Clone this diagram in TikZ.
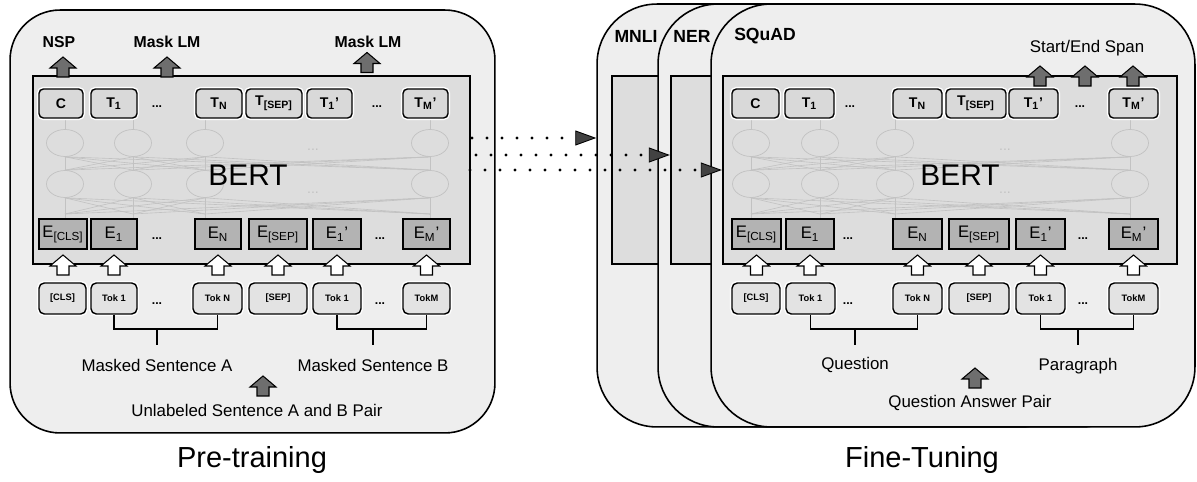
\documentclass[tikz,border=0pt]{standalone}
\usepackage{fontspec}
\setmainfont{Liberation Sans}
\usetikzlibrary{positioning,shapes.geometric,arrows.meta}

\definecolor{panelgray}{HTML}{EEEEEE}
\definecolor{bertgray}{HTML}{DDDDDD}
\definecolor{outgray}{HTML}{D9D9D9}
\definecolor{tokgray}{HTML}{E3E3E3}
\definecolor{embgray}{HTML}{B3B3B3}
\definecolor{arrgray}{HTML}{6E6E6E}
\definecolor{netgray}{HTML}{C2C2C2}

\newcommand{\lblsize}{\fontsize{9.6}{11}\selectfont}
\newcommand{\ttlsize}{\fontsize{16.5}{19}\selectfont}

\tikzset{
  panel/.style={draw, line width=0.9pt, fill=panelgray, rounded corners=1cm, inner sep=0pt},
  taskpanel/.style={panel, rounded corners=1.2cm, minimum width=9.68cm, minimum height=8.46cm},
  bertbox/.style={draw, line width=1.4pt, fill=bertgray, inner sep=0pt, minimum height=3.76cm},
  outbox/.style={draw, line width=0.8pt, fill=outgray, rounded corners=2.5pt, inner sep=0pt,
    minimum height=0.58cm, font=\fontsize{8}{9}\selectfont\bfseries,
    preaction={draw=white, line width=2.4pt}},
  embbox/.style={draw, line width=0.8pt, fill=embgray, inner sep=0pt, minimum height=0.6cm,
    font=\fontsize{9.5}{10}\selectfont},
  tokbox/.style={draw, line width=0.8pt, fill=tokgray, rounded corners=3pt, inner sep=0pt,
    minimum height=0.62cm, font=\fontsize{5.3}{6}\selectfont\bfseries,
    preaction={draw=white, line width=2.4pt}},
  rowdots/.style={font=\fontsize{7}{8}\selectfont\bfseries, inner sep=0pt, anchor=base},
  % block arrow pointing up, drawn in pixel units of the picture
  uparrow/.pic={\draw[line width=0.6pt, fill=#1]
    (-6,10) -- (-6,1) -- (-13,1) -- (0,-10) -- (13,1) -- (6,1) -- (6,10) -- cycle;},
  netcell/.style={ellipse, draw=netgray, line width=0.4pt, minimum width=0.74cm, minimum height=0.54cm, inner sep=0pt},
  netline/.style={draw=netgray, line width=0.35pt},
  netdots/.style={text=netgray, font=\fontsize{8}{9}\selectfont, inner sep=0pt},
  bertlabel/.style={font=\fontsize{17}{20}\selectfont, inner sep=0pt},
  bracket/.style={line width=0.8pt},
  lbl/.style={font=\lblsize, inner sep=1pt},
  headlbl/.style={font=\fontsize{9}{10}\selectfont\bfseries, inner sep=1pt},
  tasklbl/.style={font=\fontsize{10}{11}\selectfont\bfseries, inner sep=1pt},
  title/.style={font=\ttlsize, inner sep=1pt},
  dotarrow/.style={line width=1.8pt, line cap=round, dash pattern=on 0pt off 0.3cm,
    -{Triangle[length=0.42cm 0 0, width=0.3cm 0 0, fill=arrgray!60!black, line width=0.5pt]}},
}

\begin{document}
\begin{tikzpicture}[x=0.02cm,y=-0.02cm]
\useasboundingbox (0,0) rectangle (1197,482);

% ---------------- pre-training ----------------
\node[panel, minimum width=9.7cm, minimum height=8.46cm] (pre) at (252.5,221.5) {};
\node[bertbox, minimum width=8.74cm] (bertL) at (251.5,170) {};

% faint transformer layers
\foreach \x in {65,133,205,430} {
  \node[netcell] (aL\x) at (\x,143) {};
  \node[netcell] (bL\x) at (\x,184) {};
}
\foreach \x in {65,133,205,430} {
  \draw[netline] (aL\x.north) -- ++(0,-13);
  \draw[netline] (bL\x.south) -- ++(0,22);
  \foreach \y in {65,133,205,430} {
    \draw[netline] (aL\x.south) -- (bL\y.north);
    \draw[netline] (bL\x.south) -- (\y,214);
  }
}
\node[netdots] (ndL1) at (313,150) {...};
\node[netdots] (ndL2) at (313,193) {...};
\node[bertlabel] (bertLtxt) at (248,175) {BERT};

% output, embedding and token rows
\foreach \n/\x/\w/\t in {c/61/44/C, t1/114/46/T\textsubscript{1}, tn/219/46/T\textsubscript{N},
    tsep/274/56/T\textsubscript{[SEP]}, t1b/329.5/45/T\textsubscript{1}', tm/425.5/45/T\textsubscript{M}'}
  \node[outbox, minimum width=\w*0.02cm] (oL-\n) at (\x,103.5) {\t};
\foreach \n/\x/\w/\t in {cls/63/48/E\textsubscript{[CLS]}, e1/114/46/E\textsubscript{1}, en/218/46/E\textsubscript{N},
    esep/278/58/E\textsubscript{[SEP]}, e1b/337/48/E\textsubscript{1}', em/426.5/47/E\textsubscript{M}'}
  \node[embbox, minimum width=\w*0.02cm] (eL-\n) at (\x,234) {\t};
\foreach \n/\x/\w/\t in {cls/62.5/47/[CLS], t1/114/46/Tok 1, tn/217.5/49/Tok N,
    sep/278/58/[SEP], t1b/337/48/Tok 1, tm/426.5/47/TokM}
  \node[tokbox, minimum width=\w*0.02cm] (kL-\n) at (\x,298.5) {\t};
\node[rowdots] (oLd1) at (157,108) {...};
\node[rowdots] (oLd2) at (377,108) {...};
\node[rowdots] (eLd1) at (157,240) {...};
\node[rowdots] (eLd2) at (380,240) {...};
\node[rowdots] (kLd1) at (157,305) {...};
\node[rowdots] (kLd2) at (380,305) {...};

\foreach \n in {cls,e1,en,esep,e1b,em}
  \pic (iL-\n) at (eL-\n.south |- 0,265) {uparrow=white};

% sentence brackets
\node[lbl] (sentA) at (157,365) {Masked Sentence A};
\node[lbl] (sentB) at (373,365) {Masked Sentence B};
\draw[bracket] (kL-t1.south) -- (kL-t1.south |- 0,329) -- (kL-tn.south |- 0,329) -- (kL-tn.south);
\draw[bracket] (kL-t1b.south) -- (kL-t1b.south |- 0,329) -- (kL-tm.south |- 0,329) -- (kL-tm.south);
\draw[bracket] (sentA.north |- 0,329) -- (sentA.north |- 0,345);
\draw[bracket] (sentB.north |- 0,329) -- (sentB.north |- 0,345);

\pic (pairLa) at (263,386) {uparrow=arrgray};
\node[lbl] (pairL) at (257,410) {Unlabeled Sentence A and B Pair};

% pre-training heads
\node[headlbl] (nsp) at (59,42) {NSP};
\node[headlbl] (mlm1) at (167,42) {Mask LM};
\node[headlbl] (mlm2) at (368,42) {Mask LM};
\pic (nspA) at (63,67) {uparrow=arrgray};
\pic (mlm1A) at (167,67) {uparrow=arrgray};
\pic (mlm2A) at (367,62.5) {uparrow=arrgray};

\node[title] (ptitle) at (252,460) {Pre-training};

% ---------------- fine-tuning ----------------
\node[taskpanel] (mnli) at (839,215.5) {};
\node[bertbox, minimum width=9.08cm] (mnliIn) at (839,170) {};
\node[taskpanel] (ner) at (900,215.5) {};
\node[bertbox, minimum width=9.08cm] (nerIn) at (898,170) {};
\node[taskpanel] (squad) at (953,215.5) {};
\node[bertbox, minimum width=9.08cm] (sqIn) at (950,170) {};

\node[tasklbl] (mnliT) at (636,36) {MNLI};
\node[tasklbl] (nerT) at (692,36) {NER};
\node[tasklbl] (squadT) at (765,36) {SQuAD};

\foreach \x in {751,820,895,1130} {
  \node[netcell] (aR\x) at (\x,143) {};
  \node[netcell] (bR\x) at (\x,184) {};
}
\foreach \x in {751,820,895,1130} {
  \draw[netline] (aR\x.north) -- ++(0,-13);
  \draw[netline] (bR\x.south) -- ++(0,22);
  \foreach \y in {751,820,895,1130} {
    \draw[netline] (aR\x.south) -- (bR\y.north);
    \draw[netline] (bR\x.south) -- (\y,214);
  }
}
\node[netdots] (ndR1) at (1005,150) {...};
\node[netdots] (ndR2) at (1005,193) {...};
\node[bertlabel] (bertRtxt) at (960,175) {BERT};

\foreach \n/\x/\w/\t in {c/755.5/47/C, t1/809.5/49/T\textsubscript{1}, tn/917.5/49/T\textsubscript{N},
    tsep/976/60/T\textsubscript{[SEP]}, t1b/1033.5/49/T\textsubscript{1}', tm/1133.5/49/T\textsubscript{M}'}
  \node[outbox, minimum width=\w*0.02cm] (oR-\n) at (\x,103.5) {\t};
\foreach \n/\x/\w/\t in {cls/756.5/49/E\textsubscript{[CLS]}, e1/810/48/E\textsubscript{1}, en/917.5/49/E\textsubscript{N},
    esep/979/60/E\textsubscript{[SEP]}, e1b/1040.5/49/E\textsubscript{1}', em/1133.5/49/E\textsubscript{M}'}
  \node[embbox, minimum width=\w*0.02cm] (eR-\n) at (\x,234) {\t};
\foreach \n/\x/\w/\t in {cls/756/48/[CLS], t1/810.5/49/Tok 1, tn/917.5/49/Tok N,
    sep/979/60/[SEP], t1b/1040.5/49/Tok 1, tm/1133.5/49/TokM}
  \node[tokbox, minimum width=\w*0.02cm] (kR-\n) at (\x,298.5) {\t};
\node[rowdots] (oRd1) at (850,108) {...};
\node[rowdots] (oRd2) at (1080,108) {...};
\node[rowdots] (eRd1) at (848,240) {...};
\node[rowdots] (eRd2) at (1083,240) {...};
\node[rowdots] (kRd1) at (848,305) {...};
\node[rowdots] (kRd2) at (1083,305) {...};

\foreach \n in {cls,e1,en,esep,e1b,em}
  \pic (iR-\n) at (eR-\n.south |- 0,265) {uparrow=white};

\node[lbl] (quest) at (855,365) {Question};
\node[lbl] (para) at (1078,366) {Paragraph};
\draw[bracket] (kR-t1.south) -- (kR-t1.south |- 0,329) -- (kR-tn.south |- 0,329) -- (kR-tn.south);
\draw[bracket] (kR-t1b.south) -- (kR-t1b.south |- 0,329) -- (kR-tm.south |- 0,329) -- (kR-tm.south);
\draw[bracket] (quest.north |- 0,329) -- (quest.north |- 0,345);
\draw[bracket] (para.north |- 0,329) -- (para.north |- 0,345);

\pic (pairRa) at (975,378) {uparrow=arrgray};
\node[lbl] (pairR) at (970,403) {Question Answer Pair};

\node[lbl] (span) at (1087,48) {Start/End Span};
\pic (spanA1) at (1040,76) {uparrow=arrgray};
\pic (spanA2) at (1085,76) {uparrow=arrgray};
\pic (spanA3) at (1133,76) {uparrow=arrgray};

\node[title] (ftitle) at (922,460) {Fine-Tuning};

% transfer of pre-trained weights
\coordinate (s1) at (472,138);
\coordinate (s2) at (476,155);
\coordinate (s3) at (470,170);
\draw[dotarrow] (s1) -- (s1 -| mnli.west);
\draw[dotarrow] (s2) -- (s2 -| nerIn.west);
\draw[dotarrow] (s3) -- (s3 -| sqIn.west);
\end{tikzpicture}
\end{document}
